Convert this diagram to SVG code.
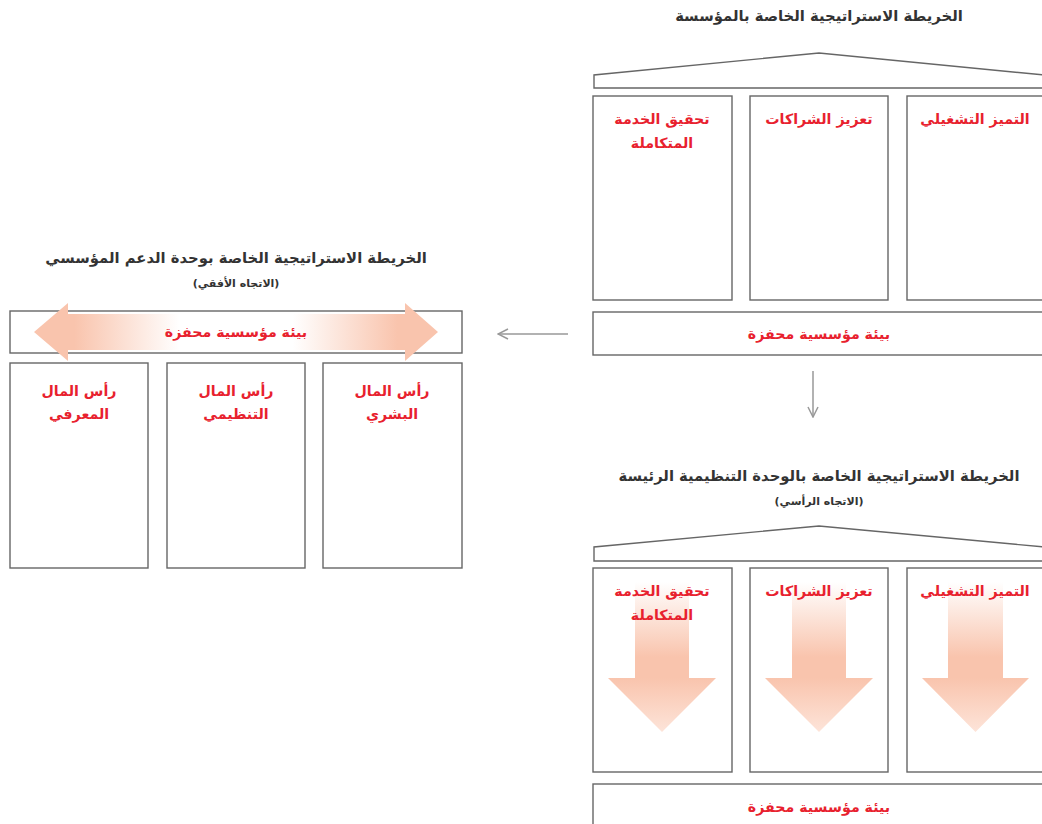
<svg xmlns="http://www.w3.org/2000/svg" width="1042" height="824" viewBox="0 0 1042 824">
<style>
.box{fill:#fff;stroke:#666;stroke-width:1.4}
.roof{fill:none;stroke:#666;stroke-width:1.4}
.title{font-family:"DejaVu Sans",sans-serif;font-weight:bold;font-size:14.8px;fill:#333;text-anchor:middle}
.sub{font-family:"DejaVu Sans",sans-serif;font-weight:bold;font-size:11px;fill:#333;text-anchor:middle}
.lbl{font-family:"DejaVu Sans",sans-serif;font-weight:bold;font-size:14.2px;fill:#e8212e;text-anchor:middle}
.conn{fill:none;stroke:#999;stroke-width:1.5}
</style>
<defs>
<linearGradient id="gv" x1="0" y1="0" x2="0" y2="1">
<stop offset="0" stop-color="#ffffff"/>
<stop offset="0.5" stop-color="#f9c4ad"/>
<stop offset="0.64" stop-color="#f9c4ad"/>
<stop offset="1" stop-color="#fde4d9"/>
</linearGradient>
<linearGradient id="gh" x1="0" y1="0" x2="1" y2="0">
<stop offset="0" stop-color="#f9c4ad"/>
<stop offset="0.1" stop-color="#f9c4ad"/>
<stop offset="0.36" stop-color="#ffffff"/>
<stop offset="0.64" stop-color="#ffffff"/>
<stop offset="0.9" stop-color="#f9c4ad"/>
<stop offset="1" stop-color="#f9c4ad"/>
</linearGradient>
<marker id="ah" viewBox="0 0 12 12" refX="11" refY="6" markerWidth="12" markerHeight="12" markerUnits="userSpaceOnUse" orient="auto">
<path d="M1,1 L11,6 L1,11" fill="none" stroke="#999" stroke-width="1.5"/>
</marker>
</defs>
<rect width="1042" height="824" fill="#fff"/>

<!-- Top: organisation map -->
<g id="org-map">
<text class="title" x="819" y="21">الخريطة الاستراتيجية الخاصة بالمؤسسة</text>
<path class="roof" d="M594,88 L594,75 L819,53 L1044,75 L1044,88 Z"/>
<g id="org-col3"><rect class="box" x="907" y="96" width="139" height="204"/><text class="lbl" x="975" y="124">التميز التشغيلي</text></g>
<g id="org-col2"><rect class="box" x="750" y="96" width="138" height="204"/><text class="lbl" x="819" y="124">تعزيز الشراكات</text></g>
<g id="org-col1"><rect class="box" x="593" y="96" width="139" height="204"/><text class="lbl" x="662" y="124">تحقيق الخدمة</text><text class="lbl" x="662" y="148">المتكاملة</text></g>
<g id="org-base"><rect class="box" x="593" y="312" width="452" height="43"/><text class="lbl" x="819" y="339">بيئة مؤسسية محفزة</text></g>
</g>

<!-- Left: support unit map -->
<g id="support-map">
<text class="title" x="236" y="263">الخريطة الاستراتيجية الخاصة بوحدة الدعم المؤسسي</text>
<text class="sub" x="236" y="287">(الاتجاه الأفقي)</text>
<g id="support-base">
<rect class="box" x="10" y="311" width="452" height="42"/>
<polygon points="34,332 68,303 68,314 405,314 405,303 438,332 405,361 405,350 68,350 68,361" fill="url(#gh)"/>
<text class="lbl" x="236" y="337">بيئة مؤسسية محفزة</text>
</g>
<g id="support-col1"><rect class="box" x="10" y="363" width="138" height="205"/><text class="lbl" x="79" y="396">رأس المال</text><text class="lbl" x="79" y="419">المعرفي</text></g>
<g id="support-col2"><rect class="box" x="167" y="363" width="138" height="205"/><text class="lbl" x="236" y="396">رأس المال</text><text class="lbl" x="236" y="419">التنظيمي</text></g>
<g id="support-col3"><rect class="box" x="323" y="363" width="139" height="205"/><text class="lbl" x="392" y="396">رأس المال</text><text class="lbl" x="392" y="419">البشري</text></g>
</g>

<!-- Bottom: main unit map -->
<g id="unit-map">
<text class="title" x="819" y="481">الخريطة الاستراتيجية الخاصة بالوحدة التنظيمية الرئيسة</text>
<text class="sub" x="819" y="505">(الاتجاه الرأسي)</text>
<path class="roof" d="M594,561 L594,547 L819,526 L1044,547 L1044,561 Z"/>
<g id="unit-col3"><rect class="box" x="907" y="568" width="139" height="204"/>
<polygon points="948,582 1003,582 1003,678 1029,678 975.5,732 922,678 948,678" fill="url(#gv)"/>
<text class="lbl" x="975" y="596">التميز التشغيلي</text></g>
<g id="unit-col2"><rect class="box" x="750" y="568" width="138" height="204"/>
<polygon points="792,582 846,582 846,678 873,678 819,732 765,678 792,678" fill="url(#gv)"/>
<text class="lbl" x="819" y="596">تعزيز الشراكات</text></g>
<g id="unit-col1"><rect class="box" x="593" y="568" width="139" height="204"/>
<polygon points="635,582 689,582 689,678 716,678 662,732 608,678 635,678" fill="url(#gv)"/>
<text class="lbl" x="662" y="596">تحقيق الخدمة</text><text class="lbl" x="662" y="620">المتكاملة</text></g>
<g id="unit-base"><rect class="box" x="593" y="784" width="452" height="45"/><text class="lbl" x="819" y="812">بيئة مؤسسية محفزة</text></g>
</g>

<g id="connectors">
<line class="conn" x1="568" y1="334" x2="498" y2="334" marker-end="url(#ah)"/>
<line class="conn" x1="813" y1="371" x2="813" y2="417" marker-end="url(#ah)"/>
</g>
</svg>
